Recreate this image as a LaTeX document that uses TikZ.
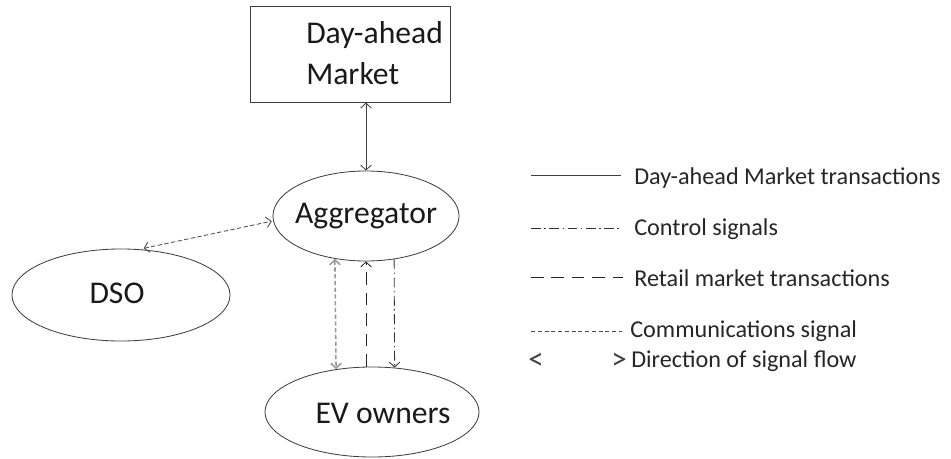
\documentclass[tikz,border=0pt]{standalone}
\usepackage{fontspec}
\setmainfont{Carlito}
\usetikzlibrary{positioning,shapes.geometric,arrows.meta}

\begin{document}
\begin{tikzpicture}[
  x=0.025cm, y=-0.025cm,
  >={Straight Barb[length=3.5pt,width=7.5pt]},
  partystyle/.style={
        draw=black!75,
        line width=0.6pt,
        ellipse,
        inner sep=0pt
  },
  maintext/.style={inner sep=0pt, font=\fontsize{22.5}{29}\selectfont, text=black!90},
  legendtext/.style={inner sep=0pt, anchor=west, font=\fontsize{17.2}{20}\selectfont, text=black!85},
  tipsign/.style={inner sep=0pt, font=\fontsize{22}{24}\selectfont, text=black!75},
  dam/.style={draw=black!75, line width=0.6pt},
  control/.style={draw=black!80, line width=0.6pt, dash pattern=on 7pt off 2.5pt on 1pt off 2.5pt},
  retail/.style={draw=black!85, line width=0.6pt, dash pattern=on 9pt off 5.5pt},
  comms/.style={draw=black!70, line width=0.6pt, dash pattern=on 3pt off 1.8pt}
]

    \useasboundingbox (0,0) rectangle (951,459);

    % parties
    \node[rectangle, draw=black!75, line width=0.6pt, minimum width=4.98cm, minimum height=2.38cm] (market) at (350.5,54.5) {};
    \node[maintext, align=left, anchor=west] (markettext) at (306,53) {Day-ahead\\Market};

    \node[partystyle, minimum width=4.65cm, minimum height=2.25cm] (agg) at (366,216) {};
    \node[maintext] (aggtext) at (agg) {Aggregator};

    \node[partystyle, minimum width=5.45cm, minimum height=2.3cm] (dso) at (121,295) {};
    \node[maintext] (dsotext) at (117,293) {DSO};

    \node[partystyle, minimum width=5.35cm, minimum height=2.25cm] (ev) at (372,412) {};
    \node[maintext] (evtext) at (383,413) {EV owners};

    % signal flows
    \draw[dam, <->] (agg.north |- market.south) -- (agg.north);
    \draw[comms, <->, shorten <=3pt, shorten >=1pt] (dso.68) -- (agg.183);
    \draw[comms, draw=black!40, line width=1.1pt, <->] (agg.234.8) -- (ev.130.3);
    \draw[retail, ->] (agg.south |- ev.north) -- (agg.south);
    \draw[control, ->] (agg.303.1) -- (ev.63.4);

    % legend
    \coordinate (l1a) at (531,175);
    \coordinate (l1b) at (621,175);
    \coordinate (l2a) at (531,228);
    \coordinate (l2b) at (621,228);
    \coordinate (l3a) at (531,277);
    \coordinate (l3b) at (623,277);
    \coordinate (l4a) at (531,331);
    \coordinate (l4b) at (622,331);

    \node[legendtext] (lg1) at (634,178) {Day-ahead Market transactions};
    \node[legendtext] (lg2) at (634,229) {Control signals};
    \node[legendtext] (lg3) at (634,278) {Retail market transactions};
    \node[legendtext] (lg4) at (630,331) {Communications signal};
    \node[legendtext] (lg5) at (631,361) {Direction of signal flow};
    \node[tipsign] (ltipl) at (536,361) {<};
    \node[tipsign] (ltipr) at (619,361) {>};

    \draw[dam] (l1a) -- (l1b);
    \draw[control] (l2a) -- (l2b);
    \draw[retail] (l3a) -- (l3b);
    \draw[comms] (l4a) -- (l4b);
\end{tikzpicture}
\end{document}
